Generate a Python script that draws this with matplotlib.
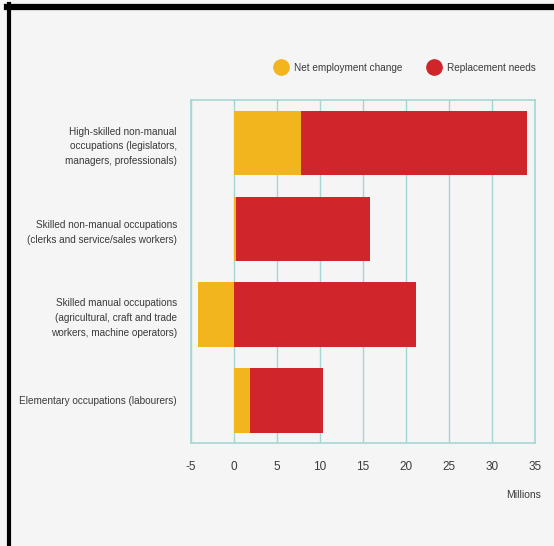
import matplotlib
matplotlib.use("Agg")
import matplotlib.pyplot as plt
from matplotlib import font_manager
from matplotlib.lines import Line2D
import numpy as np

# data (millions)
categories = ["High-skilled non-manual\noccupations (legislators,\nmanagers, professionals)",
              "Skilled non-manual occupations\n(clerks and service/sales workers)",
              "Skilled manual occupations\n(agricultural, craft and trade\nworkers, machine operators)",
              "Elementary occupations (labourers)"]
net_change = [7.8, 0.3, -4.1, 1.9]
replacement = [26.2, 15.5, 21.2, 8.5]
xticks = [-5, 0, 5, 10, 15, 20, 25, 30, 35]

yellow = "#f2b51d"
red = "#cf252b"
grid_c = "#a6d6d3"
bg = "#f5f5f5"
txt = "#3a3a3a"

names = {f.name for f in font_manager.fontManager.ttflist}
fam = "Liberation Sans Narrow" if "Liberation Sans Narrow" in names else "Liberation Sans"
plt.rcParams['font.family'] = [fam, 'DejaVu Sans']

fig = plt.figure(figsize=(5.54, 5.46), dpi=100)
fig.patch.set_facecolor(bg)
ax = fig.add_axes([0.3442, 0.1881, 0.622, 0.6287])
ax.set_facecolor(bg)

y = np.arange(len(categories))
net = np.array(net_change)
rep = np.array(replacement)
ax.barh(y, net, height=0.75, color=yellow, zorder=3)
ax.barh(y, rep, left=np.maximum(net, 0), height=0.75, color=red, zorder=3)

ax.set_ylim(3.5, -0.5)
ax.set_xlim(-5, 35)
ax.set_xticks(xticks)
ax.set_xticklabels([str(v) for v in xticks], fontsize=8.5, color=txt)
ax.set_yticks(y)
ax.set_yticklabels(categories, fontsize=7.2, color=txt, linespacing=1.6)
ax.tick_params(axis='both', length=0)
ax.tick_params(axis='x', pad=13)
ax.tick_params(axis='y', pad=10)
ax.grid(axis='x', color=grid_c, linewidth=1, zorder=0)
for s in ax.spines.values():
    s.set_color(grid_c)
    s.set_linewidth(1.2)

fig.text(0.977, 0.093, "Millions", ha='right', va='center', fontsize=7.5, color=txt)

handles = [Line2D([], [], marker='o', linestyle='', markersize=11, color=yellow),
           Line2D([], [], marker='o', linestyle='', markersize=11, color=red)]
ax.legend(handles, ["Net employment change", "Replacement needs"], ncol=2, frameon=False,
          loc='lower right', bbox_to_anchor=(1.027, 1.053), fontsize=7.2, handletextpad=0.25,
          columnspacing=2.2, labelcolor=txt)

# black frame edges from the screenshot
fig.add_artist(Line2D([0.0164, 0.0164], [0, 0.993], color='black', linewidth=3, transform=fig.transFigure))
fig.add_artist(Line2D([0.0127, 1.0], [0.987, 0.987], color='black', linewidth=4.5, transform=fig.transFigure))

fig.savefig("out.png", dpi=100, facecolor=bg)
